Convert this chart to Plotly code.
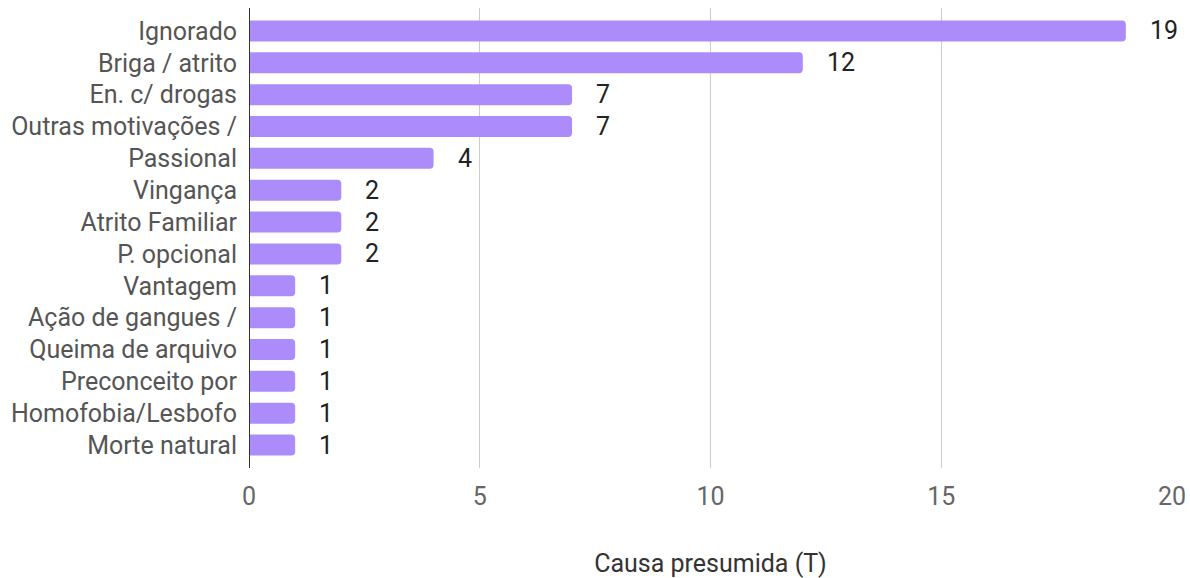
import plotly.graph_objects as go

categories = ["Ignorado", "Briga / atrito", "En. c/ drogas", "Outras motivações /",
              "Passional", "Vingança", "Atrito Familiar", "P. opcional", "Vantagem",
              "Ação de gangues /", "Queima de arquivo", "Preconceito por",
              "Homofobia/Lesbofo", "Morte natural"]
values = [19, 12, 7, 7, 4, 2, 2, 2, 1, 1, 1, 1, 1, 1]
x_ticks = [0, 5, 10, 15, 20]
x_title = "Causa presumida (T)"

fig = go.Figure()
fig.add_trace(go.Bar(
    x=values, y=categories, orientation="h",
    marker=dict(color="#ac8cfb", line=dict(width=0)),
    width=0.66, hoverinfo="skip",
))
for c, v in zip(categories, values):
    fig.add_annotation(x=v, y=c, text=str(v), showarrow=False, xanchor="left",
                       xshift=22, font=dict(family="Roboto", size=25, color="#222"))

fig.update_layout(
    width=1190, height=578,
    margin=dict(l=249, r=18, t=8, b=110),
    plot_bgcolor="white", paper_bgcolor="white",
    barcornerradius=4,
    showlegend=False,
    font=dict(family="Roboto", size=25, color="#555"),
    xaxis=dict(range=[0, 20], tickvals=x_ticks, showgrid=True, gridcolor="#cccccc",
               gridwidth=1, zeroline=False, showline=False, ticks="", automargin=False,
               ticklabelstandoff=11, tickfont=dict(size=25, color="#666"),
               title=dict(text=x_title, standoff=47, font=dict(size=25, color="#333"))),
    yaxis=dict(autorange=False, range=[13.72, -0.72], type="category", automargin=False,
               showgrid=False, zeroline=False, showline=False, ticks="",
               ticklabelstandoff=11, tickfont=dict(size=25, color="#555")),
)
fig.add_shape(type="line", xref="x", yref="paper", x0=0, x1=0, y0=0, y1=1,
              line=dict(color="#333333", width=2), layer="above")
fig.write_html("out.html", config={"displayModeBar": False},
               post_script="document.body.style.margin='0';document.body.style.overflow='hidden';")
